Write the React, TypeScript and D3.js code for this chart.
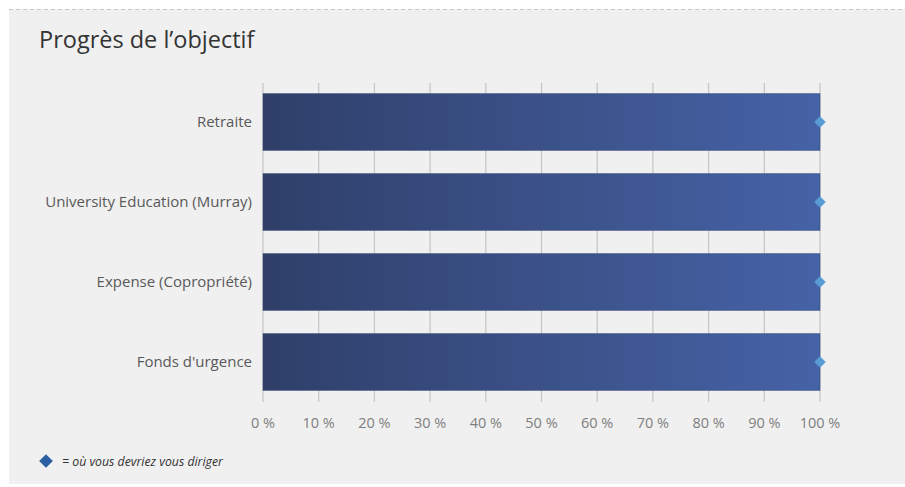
import React from "react";
import * as d3 from "d3";

const categories = ["Retraite", "University Education (Murray)", "Expense (Copropriété)", "Fonds d'urgence"];
const progressValues = [100, 100, 100, 100];
const targetValues = [100, 100, 100, 100];
const tickValues = [0, 10, 20, 30, 40, 50, 60, 70, 80, 90, 100];
const titleText = "Progrès de l\u2019objectif";
const legendText = "= où vous devriez vous diriger";

const W = 905;
const H = 487;
const FONT = "'Open Sans', 'Noto Sans', sans-serif";

export default function App() {
  const x = d3.scaleLinear().domain([0, 100]).range([263, 820]);
  const y = d3.scaleBand<string>().domain(categories).range([82, 402]).paddingInner(0.29).paddingOuter(0.145);
  const diamond = d3.symbol().type(d3.symbolDiamond2).size(85)();
  const legendDiamond = d3.symbol().type(d3.symbolDiamond2).size(120)();

  return (
    <div style={{ position: "absolute", left: 0, top: 0 }}>
      <svg width={W} height={H} style={{ display: "block" }}>
        <defs>
          <linearGradient id="barGrad" x1="0" x2="1" y1="0" y2="0">
            <stop offset="0%" stopColor="#2f3f69" />
            <stop offset="100%" stopColor="#4663a7" />
          </linearGradient>
        </defs>
        <rect x={0} y={0} width={W} height={H} fill="#ffffff" />
        <rect x={9} y={9} width={W - 9} height={H - 12} fill="#f0f0f0" />
        <line x1={9} x2={W} y1={9.5} y2={9.5} stroke="#c6c6c6" strokeDasharray="4 3" />
        <text x={39} y={48} fontFamily={FONT} fontSize={23.5} fill="#333333">{titleText}</text>

        {tickValues.map((t) => (
          <g key={t}>
            <line x1={x(t)} x2={x(t)} y1={83} y2={402} stroke="#c8c8c8" strokeWidth={1.3} />
            <text x={x(t)} y={428} textAnchor="middle" fontFamily={FONT} fontSize={14.5} fill="#7f7f7f">{`${t} %`}</text>
          </g>
        ))}

        {categories.map((c, i) => {
          const yy = y(c)!;
          const bw = y.bandwidth();
          return (
            <g key={c}>
              <rect x={x(0)} y={yy} width={x(progressValues[i]) - x(0)} height={bw} fill="url(#barGrad)" stroke="#2e4070" strokeOpacity={0.5} strokeWidth={1} />
              <text x={252} y={yy + bw / 2 + 5} textAnchor="end" fontFamily={FONT} fontSize={15} fill="#595959">{c}</text>
              <path d={diamond!} transform={`translate(${x(targetValues[i])},${yy + bw / 2})`} fill="#5b9bd5" />
            </g>
          );
        })}

        <path d={legendDiamond!} transform="translate(46,461)" fill="#2e5fa3" />
        <text x={62} y={465.5} fontFamily={FONT} fontSize={12.3} fontStyle="italic" fill="#333333">{legendText}</text>
      </svg>
    </div>
  );
}
